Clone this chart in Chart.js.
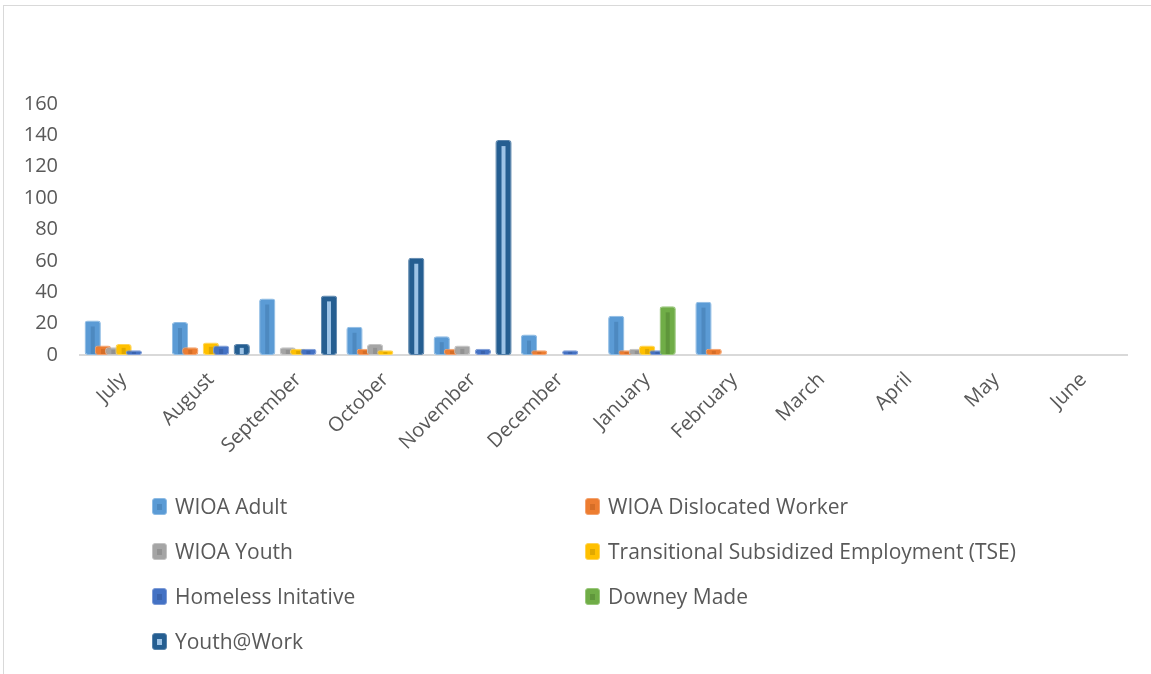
<!DOCTYPE html>
<html>
<head>
<meta charset="utf-8">
<script src="https://cdn.jsdelivr.net/npm/chart.js@4.4.1/dist/chart.umd.min.js"></script>
<style>
  html, body { margin: 0; padding: 0; background: #fff; }
  body { width: 1151px; height: 674px; position: relative; overflow: hidden; font-family: "Open Sans", sans-serif; }
  #frame { position: absolute; left: 3px; top: 5px; width: 1200px; height: 700px; border-left: 1px solid #d9d9d9; border-top: 1px solid #d9d9d9; }
  #wrap { position: absolute; left: 0; top: 0; width: 1151px; height: 674px; }
  #legend { position: absolute; left: 0; top: 0; width: 1151px; height: 674px; pointer-events: none; }
  .item { position: absolute; display: flex; align-items: center; height: 30px; color: #595959; font-size: 21px; white-space: nowrap; }
  .box { width: 15px; height: 17px; border-radius: 3px; margin-right: 8px; position: relative; box-sizing: border-box; }
  .box i { position: absolute; left: 4px; top: 5px; width: 5px; height: 6px; }
</style>
</head>
<body>
<div id="frame"></div>
<div id="wrap"><canvas id="c" width="1151" height="674"></canvas></div>
<div id="legend"></div>
<script>
const months = ["July","August","September","October","November","December","January","February","March","April","May","June"];
const seriesNames = ["WIOA Adult","WIOA Dislocated Worker","WIOA Youth","Transitional Subsidized Employment (TSE)","Homeless Initative","Downey Made","Youth@Work"];
const wioaAdult      = [22, 21, 36, 18, 12, 13, 25, 34, 0, 0, 0, 0];
const wioaDislocated = [6, 5, 0, 4, 4, 3, 3, 4, 0, 0, 0, 0];
const wioaYouth      = [5, 0, 5, 7, 6, 0, 4, 0, 0, 0, 0, 0];
const tse            = [7, 8, 4, 3, 0, 0, 6, 0, 0, 0, 0, 0];
const homeless       = [3, 6, 4, 0, 4, 3, 3, 0, 0, 0, 0, 0];
const downeyMade     = [0, 0, 0, 0, 0, 0, 31, 0, 0, 0, 0, 0];
const youthAtWork    = [0, 7, 38, 62, 137, 0, 0, 0, 0, 0, 0, 0];
const yTicks = [0, 20, 40, 60, 80, 100, 120, 140, 160];

const fills   = ["#5b9bd5","#ed7d31","#a5a5a5","#ffc000","#4472c4","#70ad47","#255e91"];
const borders = ["#8dbbe4","#f3a26e","#c3c3c3","#ffd454","#7d9bd6","#98c77a","#5883ab"];
const stripes = ["#4d89c0","#d66e27","#929292","#e0a800","#3a63ad","#5f963b","#9dc3e6"];
const seriesData = [wioaAdult, wioaDislocated, wioaYouth, tse, homeless, downeyMade, youthAtWork];

const datasets = seriesNames.map((n, i) => ({
  label: n,
  data: seriesData[i],
  backgroundColor: fills[i],
  borderColor: borders[i],
  borderWidth: 1,
  borderRadius: 3,
  borderSkipped: false,
  categoryPercentage: 0.826,
  barPercentage: 1.58
}));

const forwardDraw = {
  id: 'forwardDraw',
  beforeDatasetsDraw(chart) {
    const ctx = chart.ctx;
    const metas = chart.getSortedVisibleDatasetMetas();
    metas.forEach((meta) => {
      meta.controller.draw();
      const di = meta.index;
      meta.data.forEach((bar, j) => {
        const v = chart.data.datasets[di].data[j];
        if (!v) return;
        const p = bar.getProps(['x','y','base','width'], true);
        const h = p.base - p.y;
        const off = Math.min(6, h * 0.35);
        const w = 4;
        ctx.save();
        ctx.fillStyle = stripes[di];
        ctx.fillRect(p.x - w / 2, p.y + off, w, Math.max(0, h - off - 1));
        ctx.restore();
      });
    });
    return false;
  }
};

const chart = new Chart(document.getElementById('c'), {
  type: 'bar',
  data: { labels: months, datasets },
  plugins: [forwardDraw],
  options: {
    responsive: false,
    animation: false,
    events: [],
    layout: { padding: { left: 0, right: 24, top: 104, bottom: 219 } },
    plugins: { legend: { display: false }, tooltip: { enabled: false } },
    scales: {
      x: {
        z: 1,
        grid: { display: false, drawTicks: false },
        border: { display: true, color: '#d9d9d9', width: 2 },
        ticks: { color: '#595959', font: { family: 'Open Sans', size: 20 }, minRotation: 45, maxRotation: 45, padding: 13, autoSkip: false },
        afterFit: (s) => { s.height = 100; }
      },
      y: {
        min: 0, max: 160,
        grid: { display: false, drawTicks: false },
        border: { display: false },
        ticks: { color: '#595959', font: { family: 'Open Sans', size: 20 }, stepSize: 20, padding: 22,
          callback: (v) => yTicks.includes(v) ? String(v) : '' },
        afterFit: (s) => { s.width = 80; }
      }
    }
  }
});

// HTML legend built from chart datasets (two columns)
const legend = document.getElementById('legend');
const colX = [152, 585];
const rowY = [506, 551, 596, 641];
chart.data.datasets.forEach((ds, i) => {
  const el = document.createElement('div');
  el.className = 'item';
  el.style.left = colX[i % 2] + 'px';
  el.style.top = (rowY[Math.floor(i / 2)] - 15) + 'px';
  const box = document.createElement('span');
  box.className = 'box';
  box.style.background = ds.backgroundColor;
  box.style.border = '1px solid ' + ds.borderColor;
  const inner = document.createElement('i');
  inner.style.background = stripes[i];
  box.appendChild(inner);
  el.appendChild(box);
  el.appendChild(document.createTextNode(ds.label));
  legend.appendChild(el);
});
</script>
</body>
</html>
